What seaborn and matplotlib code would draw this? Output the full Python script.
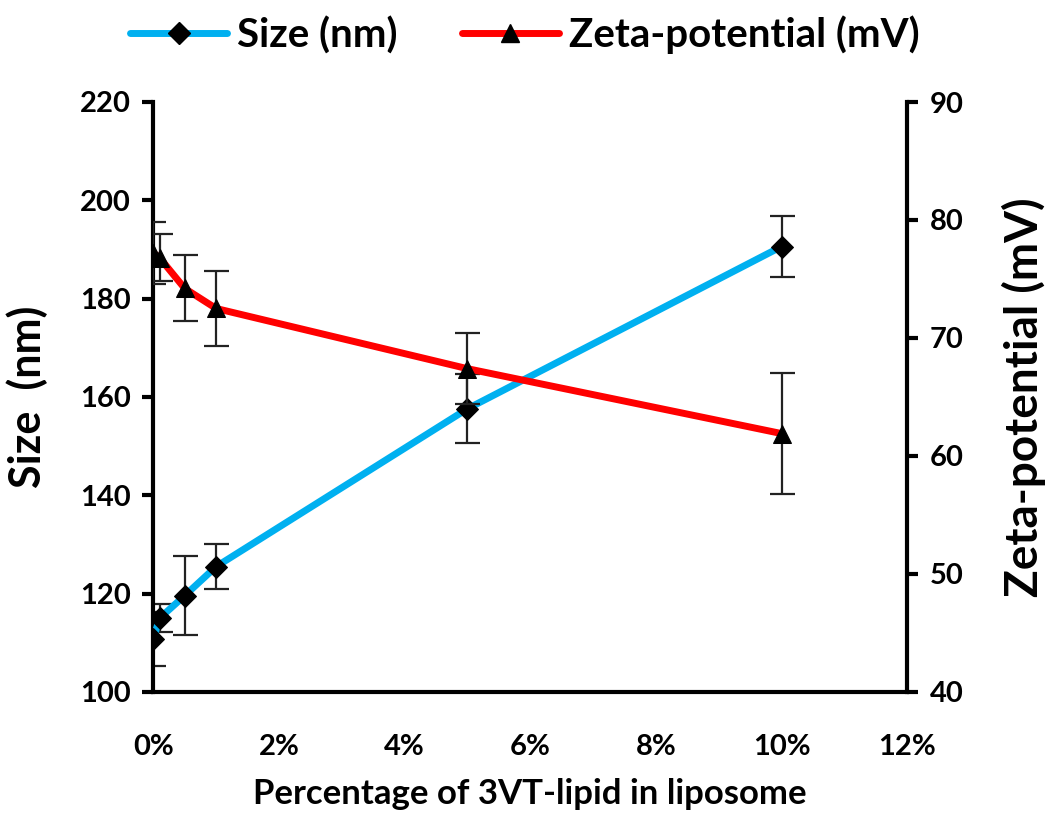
import matplotlib
matplotlib.use("Agg")
import matplotlib.pyplot as plt
from matplotlib.lines import Line2D
from matplotlib.ticker import FuncFormatter
import numpy as np
import pandas as pd
import seaborn as sns

# data
lipid_pct = [0.0, 0.1, 0.5, 1.0, 5.0, 10.0]
size_nm = [110.8, 115.0, 119.6, 125.5, 157.6, 190.6]
size_err = [5.5, 2.8, 8.0, 4.5, 7.0, 6.2]
zeta_mv = [77.2, 76.8, 74.2, 72.5, 67.4, 61.9]
zeta_err = [2.6, 2.0, 2.8, 3.2, 3.0, 5.1]

df = pd.DataFrame({"pct": lipid_pct, "size": size_nm, "size_err": size_err,
                   "zeta": zeta_mv, "zeta_err": zeta_err})

sns.set_theme(style="white")
plt.rcParams["font.family"] = ["Lato", "DejaVu Sans"]
plt.rcParams["font.weight"] = "bold"
plt.rcParams.update({"text.color": "black", "axes.labelcolor": "black",
                     "xtick.color": "black", "ytick.color": "black"})

CYAN = "#00B0F0"
RED = "#FF0000"

fig = plt.figure(figsize=(10.5, 8.16), dpi=100)
ax = fig.add_axes([0.146, 0.152, 0.718, 0.723])
ax2 = ax.twinx()

# size (left axis)
ax.errorbar(df["pct"], df["size"], yerr=df["size_err"], fmt="none",
            ecolor="#222222", elinewidth=1.6, capsize=9, capthick=1.6, zorder=2)
sns.lineplot(data=df, x="pct", y="size", ax=ax, color=CYAN, linewidth=5,
             marker="D", markersize=11, markerfacecolor="black",
             markeredgecolor="black", zorder=3)

# zeta potential (right axis)
ax2.errorbar(df["pct"], df["zeta"], yerr=df["zeta_err"], fmt="none",
             ecolor="#222222", elinewidth=1.6, capsize=9, capthick=1.6, zorder=2)
sns.lineplot(data=df, x="pct", y="zeta", ax=ax2, color=RED, linewidth=5,
             marker="^", markersize=13, markerfacecolor="black",
             markeredgecolor="black", zorder=3)

ax.set_xlim(0, 12)
ax.set_ylim(100, 220)
ax2.set_ylim(40, 90)
ax.set_xticks(np.arange(0, 13, 2))
ax.set_yticks(np.arange(100, 221, 20))
ax2.set_yticks(np.arange(40, 91, 10))
ax.xaxis.set_major_formatter(FuncFormatter(lambda v, _: f"{v:.0f}%"))

for a in (ax, ax2):
    a.spines["top"].set_visible(False)
    for s in ("left", "right", "bottom"):
        a.spines[s].set_linewidth(3)
        a.spines[s].set_color("black")
    a.tick_params(axis="both", which="major", labelsize=21, width=3, length=8,
                  direction="out", color="black", labelcolor="black", pad=6)
ax.spines["right"].set_visible(False)
ax2.spines["left"].set_visible(False)
ax2.spines["bottom"].set_visible(False)
ax.tick_params(axis="x", direction="inout", length=12, pad=24)
ax.tick_params(axis="y", left=True, pad=8)
ax2.tick_params(axis="y", right=True, pad=8)
ax.grid(False)
ax2.grid(False)

for lab in ax.get_xticklabels() + ax.get_yticklabels() + ax2.get_yticklabels():
    lab.set_fontweight("bold")

ax.set_xlabel("Percentage of 3VT-lipid in liposome", fontsize=25,
              fontweight="bold", color="black")
ax.xaxis.set_label_coords(0.5, -0.145)
ax.set_ylabel("Size  (nm)", fontsize=31, fontweight="bold", color="black")
ax.yaxis.set_label_coords(-0.14, 0.5)
ax2.set_ylabel("Zeta-potential (mV)", fontsize=33, fontweight="bold",
               color="black")
ax2.yaxis.set_label_coords(1.125, 0.5)

handles = [
    Line2D([], [], color=CYAN, linewidth=5, marker="D", markersize=11,
           markerfacecolor="black", markeredgecolor="black"),
    Line2D([], [], color=RED, linewidth=5, marker="^", markersize=13,
           markerfacecolor="black", markeredgecolor="black"),
]
leg = fig.legend(handles, ["Size (nm)", "Zeta-potential (mV)"],
                 loc="upper center", bbox_to_anchor=(0.5, 1.025), ncol=2,
                 frameon=False, handlelength=2.4, columnspacing=1.6,
                 handletextpad=0.25, prop={"weight": "bold", "size": 29})
for t in leg.get_texts():
    t.set_color("black")

fig.savefig("out.png", dpi=100)
